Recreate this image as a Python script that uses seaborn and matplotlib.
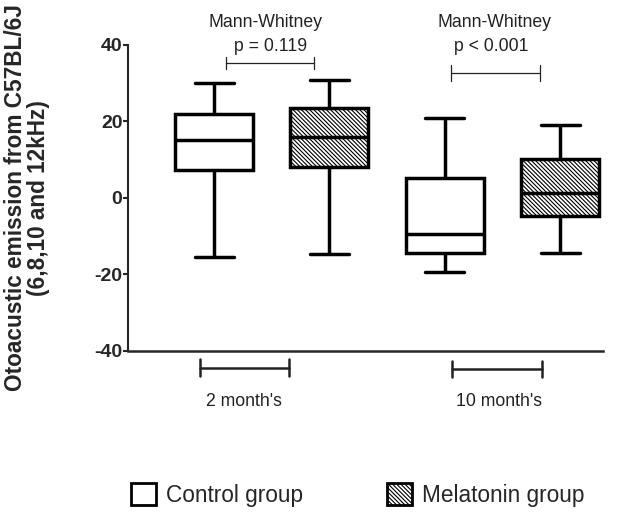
import matplotlib
matplotlib.use("Agg")
import matplotlib.pyplot as plt
from matplotlib.patches import Patch
import seaborn as sns
import pandas as pd
import numpy as np

# ---- data (five-number summaries: min, Q1, median, Q3, max)
periods = ["2 month's", "10 month's"]
groups = ["Control group", "Melatonin group"]
control_2m = [-15.5, 7.3, 15.2, 22.0, 30.0]
melatonin_2m = [-14.6, 8.1, 16.0, 23.5, 30.8]
control_10m = [-19.3, -14.4, -9.4, 5.2, 21.0]
melatonin_10m = [-14.4, -4.7, 1.3, 10.2, 19.0]
test_name = "Mann-Whitney"
p_labels = ["p = 0.119", "p < 0.001"]
y_ticks = [-40, -20, 0, 20, 40]

rows = []
for period, series in zip(periods, [(control_2m, melatonin_2m), (control_10m, melatonin_10m)]):
    for grp, vals in zip(groups, series):
        for v in vals:
            rows.append({"period": period, "group": grp, "value": v})
df = pd.DataFrame(rows)

sns.set_style("ticks")
plt.rcParams["font.family"] = ["Liberation Sans", "DejaVu Sans"]
plt.rcParams["hatch.linewidth"] = 0.8
plt.rcParams["hatch.color"] = "black"

HATCH = "\\" * 8

fig = plt.figure(figsize=(6.25, 5.12), dpi=100)
ax = fig.add_axes([0.2048, 0.3145, 0.76, 0.5977])

sns.boxplot(data=df, x="period", y="value", hue="group", order=periods, hue_order=groups,
            palette={"Control group": "white", "Melatonin group": "white"},
            linecolor="black", linewidth=2.5, width=1.0, gap=0.324,
            whis=(0, 100), showfliers=False, legend=False, ax=ax)

# hatch the melatonin boxes (right box of each pair)
for patch in ax.patches:
    verts = patch.get_path().vertices
    xc = np.mean(verts[:, 0]) if len(verts) else 0
    if xc - np.floor(xc + 0.5) > 0:
        patch.set_hatch(HATCH)
        patch.set_edgecolor("black")

ax.set_xlim(-0.623, 1.436)
ax.set_ylim(-40, 40)
ax.set_yticks(y_ticks)
ax.set_yticklabels([str(t) for t in y_ticks], fontweight="bold", fontsize=14)
ax.set_xticks([])
ax.set_xlabel("")
for s in ["top", "right"]:
    ax.spines[s].set_visible(False)
ax.spines["left"].set_linewidth(1.5)
ax.spines["bottom"].set_linewidth(1.8)
ax.tick_params(axis="y", length=3.5, width=1.5, pad=0.5)

ax.set_ylabel("Otoacustic emission from C57BL/6J\n(6,8,10 and 12kHz)",
              fontsize=16.3, fontweight="bold", va="center", linespacing=1.05)
ax.yaxis.set_label_coords(-0.2126, 0.5)

# period brackets and labels under the axis
for (x0, x1, yb), (xt, lab) in zip([(-0.311, 0.075, -44.4), (0.782, 1.172, -44.7)],
                                   [(-0.12, periods[0]), (0.985, periods[1])]):
    ax.plot([x0, x1], [yb, yb], color="#222222", lw=1.8, clip_on=False)
    for xx in (x0, x1):
        ax.plot([xx, xx], [yb - 2.2, yb + 2.2], color="#222222", lw=1.8, clip_on=False)
    ax.text(xt, -53.3, lab, ha="center", va="center", fontsize=12.7, color="#222222")

# significance annotations
for (x0, x1, yb, cap), (xm, xp, lab) in zip([(-0.198, 0.183, 35.3, 1.6), (0.777, 1.163, 32.7, 2.0)],
                                            [(-0.029, -0.007, p_labels[0]), (0.964, 0.951, p_labels[1])]):
    ax.plot([x0, x1], [yb, yb], color="#222222", lw=0.9, clip_on=False)
    for xx in (x0, x1):
        ax.plot([xx, xx], [yb - cap, yb + cap], color="#222222", lw=0.9, clip_on=False)
    ax.text(xm, 45.8, test_name, ha="center", va="center", fontsize=12.7, color="#222222", clip_on=False)
    ax.text(xp, 39.6, lab, ha="center", va="center", fontsize=12.7, color="#222222", clip_on=False)

handles = [Patch(facecolor="white", edgecolor="black", linewidth=2.0),
           Patch(facecolor="white", edgecolor="black", linewidth=2.0, hatch=HATCH)]
fig.legend(handles, groups, loc="center", bbox_to_anchor=(0.572, 0.033), ncol=2,
           frameon=False, fontsize=16.3, handlelength=1.1, handleheight=1.1,
           handletextpad=0.45, columnspacing=3.7)

fig.savefig("out.png", dpi=100)
